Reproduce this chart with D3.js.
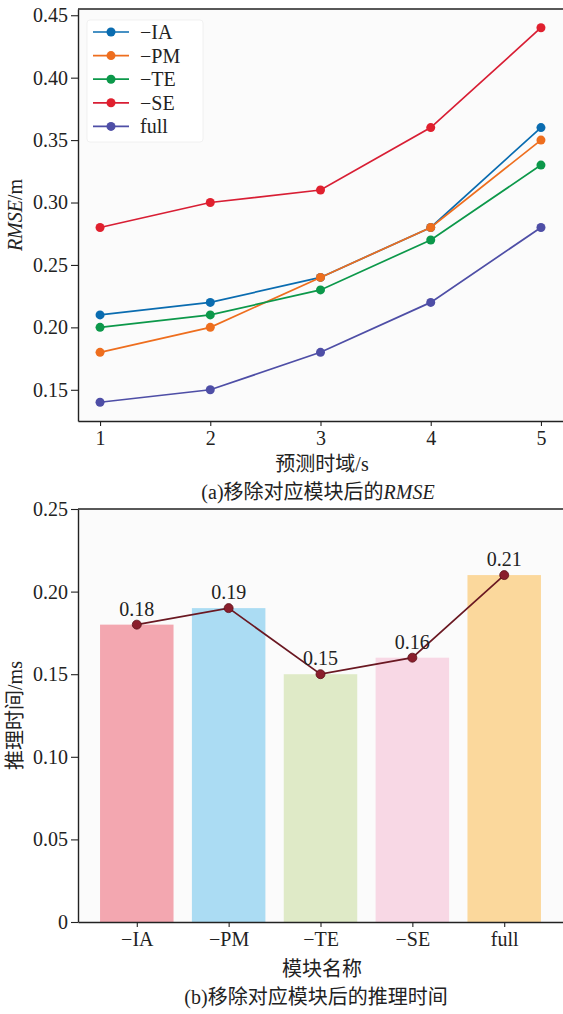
<!DOCTYPE html>
<html>
<head>
<meta charset="utf-8">
<script src="https://cdn.jsdelivr.net/npm/d3@7"></script>
<style>
  html, body { margin: 0; padding: 0; background: #ffffff; }
  svg { display: block; }
  text { font-family: "Liberation Serif", "DejaVu Serif", serif; fill: #222; }
  .cjk { font-family: "Noto Sans CJK SC", "Noto Sans", sans-serif; }
</style>
</head>
<body>
<svg id="chart" width="563" height="1014"></svg>
<script>
// ---- (a) RMSE vs prediction horizon ----
const horizons = [1, 2, 3, 4, 5];
const seriesNames = ["\u2212IA", "\u2212PM", "\u2212TE", "\u2212SE", "full"];
const rmseIA   = [0.21, 0.22, 0.24, 0.28, 0.36];
const rmsePM   = [0.18, 0.20, 0.24, 0.28, 0.35];
const rmseTE   = [0.20, 0.21, 0.23, 0.27, 0.33];
const rmseSE   = [0.28, 0.30, 0.31, 0.36, 0.44];
const rmseFull = [0.14, 0.15, 0.18, 0.22, 0.28];
const rmseTicks = [0.15, 0.20, 0.25, 0.30, 0.35, 0.40, 0.45];

// ---- (b) inference time per module ----
const modules = ["\u2212IA", "\u2212PM", "\u2212TE", "\u2212SE", "full"];
const inferTime = [0.18, 0.19, 0.15, 0.16, 0.21];
const timeTicks = [0, 0.05, 0.10, 0.15, 0.20, 0.25];

const lineColors = ["#0a6cb0", "#ee6e1e", "#0c984a", "#d81e34", "#4e4ea6"];
const markerColors = ["#0a6cb0", "#ee6e1e", "#0c984a", "#e0202e", "#4e4ea6"];
const barColors = ["#f3a7b0", "#abdcf3", "#dfeac7", "#f8d8e5", "#fbd89c"];

const svg = d3.select("#chart");
const fs = 20;

function styleAxis(ax) {
  ax.selectAll("text").style("font-size", fs + "px").attr("fill", "#222");
  ax.selectAll("line").attr("stroke", "#222").attr("stroke-width", 1.1);
  ax.select(".domain").attr("stroke", "#222").attr("stroke-width", 1.4);
}

// ===== panel (a) =====
const A = { left: 78, right: 563, top: 9, bottom: 421 };
svg.append("rect").attr("x", A.left).attr("y", A.top)
  .attr("width", A.right - A.left).attr("height", A.bottom - A.top)
  .attr("fill", "#fbfbfb");

const xA = d3.scaleLinear().domain([0.8, 5.2]).range([A.left, A.right]);
const yA = d3.scaleLinear().domain([0.125, 0.455]).range([A.bottom, A.top]);

const gA = svg.append("g");
const axA_x = gA.append("g").attr("transform", `translate(0,${A.bottom})`)
  .call(d3.axisBottom(xA).tickValues(horizons).tickFormat(d3.format("d"))
    .tickSizeInner(5).tickSizeOuter(0).tickPadding(5));
const axA_y = gA.append("g").attr("transform", `translate(${A.left},0)`)
  .call(d3.axisLeft(yA).tickValues(rmseTicks).tickFormat(d3.format(".2f"))
    .tickSizeInner(7).tickSizeOuter(0).tickPadding(3));
styleAxis(axA_x); styleAxis(axA_y);
// top spine
gA.append("line").attr("x1", A.left).attr("x2", A.right).attr("y1", A.top).attr("y2", A.top)
  .attr("stroke", "#222").attr("stroke-width", 1.4);

const rmseSeries = [rmseIA, rmsePM, rmseTE, rmseSE, rmseFull];
const line = d3.line().x((d, i) => xA(horizons[i])).y(d => yA(d));
rmseSeries.forEach((vals, k) => {
  const g = gA.append("g");
  g.append("path").datum(vals).attr("d", line).attr("fill", "none")
    .attr("stroke", lineColors[k]).attr("stroke-width", 1.7);
  g.selectAll("circle").data(vals).join("circle")
    .attr("cx", (d, i) => xA(horizons[i])).attr("cy", d => yA(d)).attr("r", 4.5)
    .attr("fill", markerColors[k]);
});

// legend
const leg = gA.append("g");
leg.append("rect").attr("x", 87).attr("y", 20).attr("width", 116).attr("height", 122)
  .attr("rx", 3).attr("fill", "#ffffff").attr("stroke", "#eeeeee").attr("stroke-width", 0.8);
seriesNames.forEach((name, k) => {
  const y = 32 + k * 23.6;
  leg.append("line").attr("x1", 93).attr("x2", 129).attr("y1", y).attr("y2", y)
    .attr("stroke", lineColors[k]).attr("stroke-width", 1.7);
  leg.append("circle").attr("cx", 111).attr("cy", y).attr("r", 4.5).attr("fill", markerColors[k]);
  leg.append("text").attr("x", 140).attr("y", y + 7).style("font-size", fs + "px").text(name);
});

// axis titles
const ylabA = gA.append("text").attr("transform", `translate(22,${(A.top + A.bottom) / 2}) rotate(-90)`)
  .attr("text-anchor", "middle").style("font-size", fs + "px");
ylabA.append("tspan").attr("font-style", "italic").text("RMSE");
ylabA.append("tspan").text("/m");

const xlabA = gA.append("text").attr("x", 322).attr("y", 471).attr("text-anchor", "middle")
  .style("font-size", fs + "px");
xlabA.append("tspan").attr("class", "cjk").text("预测时域");
xlabA.append("tspan").text("/s");

const capA = gA.append("text").attr("x", 318).attr("y", 499).attr("text-anchor", "middle")
  .style("font-size", fs + "px");
capA.append("tspan").text("(a)");
capA.append("tspan").attr("class", "cjk").text("移除对应模块后的");
capA.append("tspan").attr("font-style", "italic").text("RMSE");

// ===== panel (b) =====
const B = { left: 78, right: 563, top: 509, bottom: 922 };
svg.append("rect").attr("x", B.left).attr("y", B.top)
  .attr("width", B.right - B.left).attr("height", B.bottom - B.top)
  .attr("fill", "#fbfbfb");

const xB = d3.scaleLinear().domain([-0.64, 4.64]).range([B.left, B.right]);
const yB = d3.scaleLinear().domain([0, 0.25]).range([B.bottom, B.top]);
const barW = 0.8;

const gB = svg.append("g");
gB.selectAll("rect.bar").data(inferTime).join("rect").attr("class", "bar")
  .attr("x", (d, i) => xB(i - barW / 2)).attr("width", xB(barW) - xB(0))
  .attr("y", d => yB(d)).attr("height", d => yB(0) - yB(d))
  .attr("fill", (d, i) => barColors[i]);

const axB_x = gB.append("g").attr("transform", `translate(0,${B.bottom})`)
  .call(d3.axisBottom(xB).tickValues(d3.range(modules.length)).tickFormat(i => modules[i])
    .tickSizeInner(5).tickSizeOuter(0).tickPadding(5));
const axB_y = gB.append("g").attr("transform", `translate(${B.left},0)`)
  .call(d3.axisLeft(yB).tickValues(timeTicks).tickFormat(d => d === 0 ? "0" : d.toFixed(2))
    .tickSizeInner(7).tickSizeOuter(0).tickPadding(3));
styleAxis(axB_x); styleAxis(axB_y);
gB.append("line").attr("x1", B.left).attr("x2", B.right).attr("y1", B.top).attr("y2", B.top)
  .attr("stroke", "#222").attr("stroke-width", 1.4);

const lineB = d3.line().x((d, i) => xB(i)).y(d => yB(d));
gB.append("path").datum(inferTime).attr("d", lineB).attr("fill", "none")
  .attr("stroke", "#6a1822").attr("stroke-width", 1.7);
gB.selectAll("circle").data(inferTime).join("circle")
  .attr("cx", (d, i) => xB(i)).attr("cy", d => yB(d)).attr("r", 4.5)
  .attr("fill", "#8a1e2c").attr("stroke", "#5a1018").attr("stroke-width", 0.8);
gB.selectAll("text.val").data(inferTime).join("text").attr("class", "val")
  .attr("x", (d, i) => xB(i)).attr("y", d => yB(d) - 9)
  .attr("text-anchor", "middle").style("font-size", fs + "px")
  .text(d => d.toFixed(2));

gB.append("text").attr("class", "cjk")
  .attr("transform", `translate(22,${(B.top + B.bottom) / 2}) rotate(-90)`)
  .attr("text-anchor", "middle").style("font-size", fs + "px")
  .call(t => { t.append("tspan").text("推理时间"); t.append("tspan").style("font-family", "Liberation Serif").text("/ms"); });

gB.append("text").attr("class", "cjk").attr("x", 322).attr("y", 976).attr("text-anchor", "middle")
  .style("font-size", fs + "px").text("模块名称");

const capB = gB.append("text").attr("x", 316).attr("y", 1004).attr("text-anchor", "middle")
  .style("font-size", fs + "px");
capB.append("tspan").text("(b)");
capB.append("tspan").attr("class", "cjk").text("移除对应模块后的推理时间");
</script>
</body>
</html>
